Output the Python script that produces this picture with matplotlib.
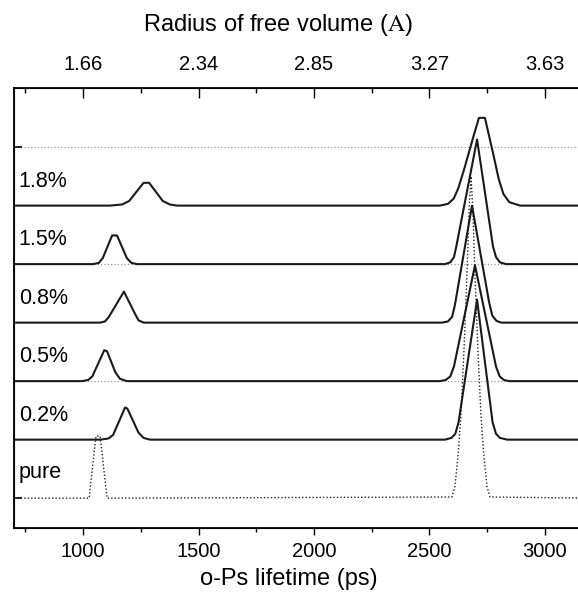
import matplotlib
matplotlib.use('Agg')
import matplotlib.pyplot as plt
from matplotlib.ticker import MultipleLocator, FixedLocator, NullFormatter

plt.rcParams['font.family'] = ['Liberation Sans', 'DejaVu Sans']
plt.rcParams['mathtext.fontset'] = 'stix'

# o-Ps lifetime distributions (x in ps, y = height above baseline)
pure_x = [700, 1026, 1056, 1074, 1104, 2597, 2610, 2623, 2636, 2649, 2662, 2671, 2680,
          2688, 2697, 2710, 2723, 2736, 2749, 2762, 3200]
pure_y = [0, 0, 1.06, 1.06, 0, 0.02, 0.2, 0.7, 1.4, 2.5, 3.8, 4.9, 5.5,
          4.9, 3.8, 2.5, 1.4, 0.7, 0.2, 0.02, 0]

s02_x = [700, 1074, 1110, 1130, 1182, 1192, 1240, 1262, 1290, 2567, 2595, 2612, 2626,
         2706, 2773, 2788, 2805, 2836, 3200]
s02_y = [0, 0, 0.02, 0.08, 0.55, 0.53, 0.12, 0.03, 0, 0, 0.03, 0.1, 0.3,
         2.39, 0.3, 0.1, 0.03, 0, 0]

s05_x = [700, 996, 1022, 1040, 1092, 1104, 1140, 1160, 1190, 2545, 2570, 2590, 2606,
         2697, 2788, 2804, 2822, 2845, 3200]
s05_y = [0, 0, 0.02, 0.08, 0.53, 0.51, 0.15, 0.04, 0, 0, 0.02, 0.08, 0.25,
         1.98, 0.25, 0.08, 0.02, 0, 0]

s08_x = [700, 1074, 1095, 1112, 1177, 1225, 1240, 1262, 2554, 2580, 2598, 2610,
         2684, 2758, 2772, 2790, 2810, 3200]
s08_y = [0, 0, 0.02, 0.1, 0.53, 0.15, 0.04, 0, 0, 0.02, 0.1, 0.3,
         2.0, 0.35, 0.12, 0.03, 0, 0]

s15_x = [700, 1043, 1068, 1085, 1126, 1147, 1190, 1210, 1234, 2567, 2590, 2606, 2616,
         2706, 2775, 2788, 2805, 2831, 3200]
s15_y = [0, 0, 0.02, 0.1, 0.49, 0.49, 0.1, 0.02, 0, 0, 0.03, 0.12, 0.3,
         2.13, 0.3, 0.12, 0.03, 0, 0]

s18_x = [700, 1117, 1170, 1200, 1262, 1286, 1345, 1375, 1407, 2545, 2580, 2605, 2625,
         2650, 2688, 2714, 2740, 2775, 2800, 2820, 2845, 2892, 3200]
s18_y = [0, 0, 0.02, 0.08, 0.39, 0.39, 0.08, 0.02, 0, 0, 0.03, 0.12, 0.3,
         0.62, 1.15, 1.5, 1.5, 0.9, 0.45, 0.2, 0.06, 0, 0]

labels = ['0.2%', '0.5%', '0.8%', '1.5%', '1.8%']
solid = [(s02_x, s02_y), (s05_x, s05_y), (s08_x, s08_y), (s15_x, s15_y), (s18_x, s18_y)]
guide_levels = [2, 4, 6]

top_ticks = [1000, 1500, 2000, 2500, 3000]
top_labels = ['1.66', '2.34', '2.85', '3.27', '3.63']

fig = plt.figure(figsize=(5.78, 5.94), dpi=100)
ax = fig.add_axes([14 / 578, 66 / 594, 567 / 578, 440 / 594])

for lv in guide_levels:
    ax.axhline(lv, color='#888888', lw=0.8, ls=(0, (1, 2)), zorder=1)

ax.plot(pure_x, pure_y, color='#222222', lw=1.0, ls=(0, (1, 1.5)), zorder=2)
ax.text(722, 0.44, 'pure', fontsize=15.5, va='center', ha='left')

for i, (xs, ys) in enumerate(solid):
    off = i + 1
    ax.plot(xs, [v + off for v in ys], color='#1a1a1a', lw=1.5, zorder=3,
            solid_joinstyle='round')
    ax.text(722, off + 0.42, labels[i], fontsize=15.5, va='center', ha='left')

ax.set_xlim(701, 3156)
ax.set_ylim(-0.51, 7.01)

ax.xaxis.set_major_locator(MultipleLocator(500))
ax.xaxis.set_minor_locator(MultipleLocator(250))
ax.set_yticks([0, 6])
ax.set_yticklabels([])
ax.tick_params(axis='x', which='major', direction='out', length=5, width=1, labelsize=14.5, pad=5)
ax.tick_params(axis='x', which='minor', direction='out', length=3, width=1)
ax.tick_params(axis='y', direction='in', length=6, width=1.2)
ax.set_xlabel('o-Ps lifetime (ps)', fontsize=17, labelpad=3)
ax.xaxis.set_label_coords(0.485, -0.09)

for sp in ax.spines.values():
    sp.set_linewidth(1.3)

ax2 = ax.twiny()
ax2.set_xlim(ax.get_xlim())
ax2.xaxis.set_major_locator(FixedLocator(top_ticks))
ax2.xaxis.set_minor_locator(MultipleLocator(250))
ax2.xaxis.set_minor_formatter(NullFormatter())
ax2.set_xticklabels(top_labels)
ax2.tick_params(axis='x', which='major', direction='in', length=7, width=1, labelsize=14.5, pad=10)
ax2.tick_params(axis='x', which='minor', direction='in', length=3.5, width=1)
ax2.set_xlabel('Radius of free volume ($\\mathrm{A}$)', fontsize=17, labelpad=14)
ax2.xaxis.set_label_coords(0.465, 1.13)

fig.savefig('out.png', dpi=100)
